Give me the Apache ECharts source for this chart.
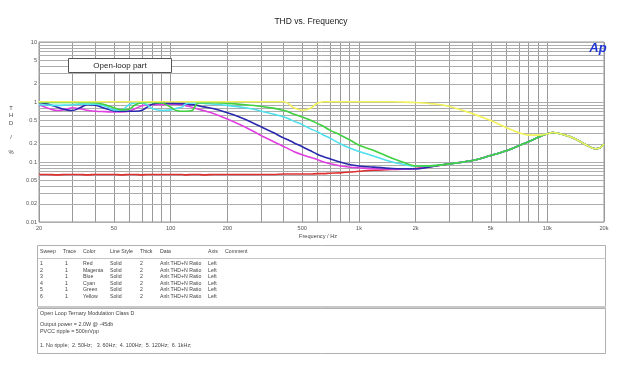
<!DOCTYPE html>
<html>
<head>
<meta charset="utf-8">
<script src="https://cdn.jsdelivr.net/npm/echarts@6/dist/echarts.min.js"></script>
<style>
html,body{margin:0;padding:0;background:#fff;}
#chart{width:617px;height:367px;}
</style>
</head>
<body>
<div id="chart"></div>
<script>
// ---- data ----
const freq = [
  20, 22, 25, 28, 30, 33, 36, 40, 45, 50,
  55, 60, 65, 70, 75, 80, 90, 100, 105, 110,
  115, 120, 130, 135, 140, 150, 170, 200, 250, 300,
  350, 400, 420, 450, 500, 550, 600, 650, 700, 800,
  900, 1000, 1200, 1500, 1700, 2000, 2500, 3000, 4000, 5000,
  6000, 7000, 8000, 9000, 10000, 10700, 12000, 14000, 16000, 18000,
  19000, 20000
];
const thdRed = [
  0.062, 0.062, 0.061, 0.062, 0.062, 0.062, 0.061, 0.062, 0.062, 0.062,
  0.061, 0.062, 0.062, 0.061, 0.062, 0.062, 0.062, 0.062, 0.062, 0.062,
  0.062, 0.061, 0.062, 0.062, 0.062, 0.061, 0.062, 0.062, 0.062, 0.062,
  0.062, 0.063, 0.063, 0.063, 0.063, 0.063, 0.064, 0.064, 0.065, 0.066,
  0.068, 0.070, 0.073, 0.075, 0.076, 0.078, 0.085, 0.093, 0.106, 0.128,
  0.152, 0.185, 0.22, 0.26, 0.295, 0.31, 0.29, 0.245, 0.194, 0.166,
  0.172, 0.2
];
const thdMagenta = [
  0.9, 0.8, 0.72, 0.76, 0.8, 0.77, 0.73, 0.7, 0.69, 0.68,
  0.68, 0.7, 0.78, 0.86, 0.9, 0.9, 0.9, 0.92, 0.92, 0.91,
  0.9, 0.87, 0.82, 0.79, 0.76, 0.72, 0.64, 0.52, 0.38, 0.28,
  0.22, 0.18, 0.167, 0.15, 0.132, 0.12, 0.11, 0.1, 0.094, 0.086,
  0.082, 0.08, 0.077, 0.076, 0.076, 0.077, 0.085, 0.093, 0.106, 0.128,
  0.152, 0.185, 0.22, 0.26, 0.295, 0.31, 0.29, 0.245, 0.194, 0.166,
  0.172, 0.2
];
const thdBlue = [
  0.98, 0.93, 0.82, 0.74, 0.72, 0.8, 0.9, 0.88, 0.78, 0.71,
  0.7, 0.7, 0.7, 0.72, 0.82, 0.92, 0.96, 0.95, 0.95, 0.94,
  0.94, 0.93, 0.9, 0.89, 0.87, 0.83, 0.77, 0.66, 0.51, 0.39,
  0.31, 0.25, 0.235, 0.21, 0.18, 0.155, 0.135, 0.122, 0.113, 0.099,
  0.09, 0.086, 0.082, 0.078, 0.077, 0.077, 0.085, 0.093, 0.106, 0.128,
  0.152, 0.185, 0.22, 0.26, 0.295, 0.31, 0.29, 0.245, 0.194, 0.166,
  0.172, 0.2
];
const thdCyan = [
  0.9, 0.89, 0.88, 0.89, 0.9, 0.92, 0.92, 0.92, 0.85, 0.74,
  0.74, 0.9, 0.96, 0.96, 0.9, 0.78, 0.72, 0.74, 0.77, 0.8,
  0.82, 0.93, 0.96, 0.96, 0.96, 0.95, 0.92, 0.88, 0.8, 0.71,
  0.63, 0.56, 0.53, 0.48, 0.42, 0.36, 0.32, 0.28, 0.25, 0.2,
  0.17, 0.15, 0.125, 0.1, 0.092, 0.085, 0.087, 0.093, 0.106, 0.128,
  0.152, 0.185, 0.22, 0.26, 0.295, 0.31, 0.29, 0.245, 0.194, 0.166,
  0.172, 0.2
];
const thdGreen = [
  0.98, 0.98, 0.98, 0.98, 0.98, 0.98, 0.98, 0.97, 0.9, 0.8,
  0.74, 0.76, 0.9, 0.97, 0.98, 0.98, 0.96, 0.82, 0.74, 0.71,
  0.7, 0.7, 0.72, 0.85, 0.96, 0.97, 0.97, 0.95, 0.9, 0.85,
  0.79, 0.72, 0.69, 0.63, 0.56, 0.5, 0.44, 0.39, 0.34, 0.28,
  0.23, 0.19, 0.155, 0.115, 0.1, 0.086, 0.087, 0.093, 0.106, 0.128,
  0.152, 0.185, 0.22, 0.26, 0.295, 0.31, 0.29, 0.245, 0.194, 0.166,
  0.172, 0.2
];
const thdYellow = [
  1.01, 1.01, 1.01, 1.01, 1.01, 1.01, 1.01, 1.01, 1.01, 1.01,
  1.01, 1.01, 1.01, 1.01, 1.01, 1.01, 1.01, 1.01, 1.01, 1.01,
  1.01, 1.01, 1.01, 1.01, 1.01, 1.01, 1.01, 1.01, 1.01, 1.01,
  1.01, 1.01, 0.95, 0.8, 0.73, 0.78, 0.95, 1.01, 1.01, 1.01,
  1.01, 1.01, 1.01, 1.01, 1.0, 0.98, 0.93, 0.85, 0.64, 0.49,
  0.38, 0.31, 0.28, 0.28, 0.295, 0.31, 0.29, 0.245, 0.194, 0.166,
  0.172, 0.2
];
const seriesNames = ['1', '2', '3', '4', '5', '6'];
const seriesColors = ['#e03030', '#e040e0', '#2a2aae', '#4ee0ee', '#40d040', '#f2f25c'];

const xTickVals = [20, 50, 100, 200, 500, 1000, 2000, 5000, 10000, 20000];
const xTickLabels = ['20', '50', '100', '200', '500', '1k', '2k', '5k', '10k', '20k'];
const yTickVals = [0.01, 0.02, 0.05, 0.1, 0.2, 0.5, 1, 2, 5, 10];
const yTickLabels = ['0.01', '0.02', '0.05', '0.1', '0.2', '0.5', '1', '2', '5', '10'];
const xGridVals = [20, 30, 40, 50, 60, 70, 80, 90, 100, 200, 300, 400, 500, 600, 700, 800, 900,
  1000, 2000, 3000, 4000, 5000, 6000, 7000, 8000, 9000, 10000, 20000];
const yGridVals = [0.01, 0.02, 0.03, 0.04, 0.05, 0.06, 0.07, 0.08, 0.09, 0.1, 0.2, 0.3, 0.4, 0.5, 0.6,
  0.7, 0.8, 0.9, 1, 2, 3, 4, 5, 6, 7, 8, 9, 10];

const tableHeader = ['Sweep', 'Trace', 'Color', 'Line Style', 'Thick', 'Data', 'Axis', 'Comment'];
const tableSweep = ['1', '2', '3', '4', '5', '6'];
const tableTrace = ['1', '1', '1', '1', '1', '1'];
const tableColor = ['Red', 'Magenta', 'Blue', 'Cyan', 'Green', 'Yellow'];
const tableStyle = ['Solid', 'Solid', 'Solid', 'Solid', 'Solid', 'Solid'];
const tableThick = ['2', '2', '2', '2', '2', '2'];
const tableData = ['Anlr.THD+N Ratio', 'Anlr.THD+N Ratio', 'Anlr.THD+N Ratio', 'Anlr.THD+N Ratio', 'Anlr.THD+N Ratio', 'Anlr.THD+N Ratio'];
const tableAxis = ['Left', 'Left', 'Left', 'Left', 'Left', 'Left'];
const notesLines = [
  'Open Loop Ternary Modulation Class D',
  'Output power = 2.0W @ -45db',
  'PVCC ripple = 500mVpp',
  '1. No ripple;  2. 50Hz;   3. 60Hz;  4. 100Hz;  5. 120Hz;  6. 1kHz;'
];

// ---- build ----
const L = Math.log10;
const allThd = [thdRed, thdMagenta, thdBlue, thdCyan, thdGreen, thdYellow];
const FONT = '"Liberation Sans", Arial, sans-serif';

function labelFor(vals, labels, v) {
  for (let i = 0; i < vals.length; i++) {
    if (Math.abs(L(vals[i]) - v) < 1e-6) return labels[i];
  }
  return '';
}

const series = allThd.map((arr, k) => ({
  name: seriesNames[k],
  type: 'line',
  data: freq.map((f, i) => [L(f), L(arr[i])]),
  showSymbol: false,
  smooth: 0.35,
  z: 10,
  lineStyle: { color: seriesColors[k], width: 1.6 },
  itemStyle: { color: seriesColors[k] },
  animation: false
}));

// grid lines as mark lines drawn through the axes
series[0].markLine = {
  silent: true,
  symbol: ['none', 'none'],
  label: { show: false },
  z: 1,
  animation: false,
  data: [
    ...xGridVals.map(v => ({ xAxis: L(v), lineStyle: { color: '#999999', width: 1, type: 'solid' } })),
    ...yGridVals.map(v => ({ yAxis: L(v), lineStyle: { color: '#adadad', width: 1, type: 'solid' } }))
  ]
};

const graphic = [];
// title
graphic.push({ type: 'text', style: { text: 'THD vs. Frequency', x: 311, y: 21.5, align: 'center', verticalAlign: 'middle', fontSize: 8.5, fontFamily: FONT, fill: '#1a1a1a' } });
// y axis name
graphic.push({ type: 'text', style: { text: 'T\nH\nD\n\n/\n\n%', x: 11, y: 104.5, align: 'center', verticalAlign: 'top', fontSize: 5.8, lineHeight: 7.4, fontFamily: FONT, fill: '#444' } });
// x axis name
graphic.push({ type: 'text', style: { text: 'Frequency / Hz', x: 318, y: 236, align: 'center', verticalAlign: 'middle', fontSize: 5.6, fontFamily: FONT, fill: '#444' } });
// Ap logo
graphic.push({ type: 'text', z: 20, style: { text: 'Ap', x: 598, y: 48, align: 'center', verticalAlign: 'middle', fontSize: 13, fontStyle: 'italic', fontWeight: 'bold', fontFamily: FONT, fill: '#1f36d4' } });
// Open-loop part box
graphic.push({ type: 'rect', z: 20, shape: { x: 68.5, y: 58.5, width: 103, height: 14 }, style: { fill: '#fff', stroke: '#555', lineWidth: 1 } });
graphic.push({ type: 'text', z: 21, style: { text: 'Open-loop part', x: 120, y: 65.5, align: 'center', verticalAlign: 'middle', fontSize: 8, fontFamily: FONT, fill: '#222' } });

// table box
graphic.push({ type: 'rect', shape: { x: 37.5, y: 245.5, width: 568, height: 61 }, style: { fill: 'none', stroke: '#b0b0b0', lineWidth: 1 } });
graphic.push({ type: 'line', shape: { x1: 38, y1: 258.5, x2: 606, y2: 258.5 }, style: { stroke: '#c4c4c4', lineWidth: 1 } });
graphic.push({ type: 'rect', shape: { x: 38, y: 306, width: 568, height: 2 }, style: { fill: '#c8c8c8' } });
graphic.push({ type: 'rect', shape: { x: 37.5, y: 308.5, width: 568, height: 45 }, style: { fill: 'none', stroke: '#b0b0b0', lineWidth: 1 } });

const colX = [40, 63, 83, 110, 140, 160, 208, 225];
const tfs = 5.2;
tableHeader.forEach((h, i) => {
  graphic.push({ type: 'text', style: { text: h, x: colX[i], y: 251.5, align: 'left', verticalAlign: 'middle', fontSize: tfs, fontFamily: FONT, fill: '#444' } });
});
const cols = [tableSweep, tableTrace, tableColor, tableStyle, tableThick, tableData, tableAxis];
const colOff = [0, 2, 0, 0, 0, 0, 0];
for (let r = 0; r < tableSweep.length; r++) {
  cols.forEach((c, i) => {
    graphic.push({ type: 'text', style: { text: c[r], x: colX[i] + colOff[i], y: 263.5 + r * 6.6, align: 'left', verticalAlign: 'middle', fontSize: tfs, fontFamily: FONT, fill: '#444' } });
  });
}
const notesY = [314, 325, 331.5, 346];
notesLines.forEach((t, i) => {
  graphic.push({ type: 'text', style: { text: t, x: 40, y: notesY[i], align: 'left', verticalAlign: 'middle', fontSize: 5.4, fontFamily: FONT, fill: '#444' } });
});

const option = {
  backgroundColor: '#fff',
  animation: false,
  grid: { left: 39, right: 13, top: 42, bottom: 145, show: true, borderColor: '#999', borderWidth: 1, backgroundColor: 'transparent' },
  xAxis: {
    type: 'value', min: L(20), max: L(20000),
    axisLine: { show: true, lineStyle: { color: '#999', width: 1 } },
    axisTick: { show: false, customValues: xTickVals.map(L) },
    splitLine: { show: false },
    axisLabel: {
      customValues: xTickVals.map(L), margin: 3, fontSize: 5.6, color: '#555', fontFamily: FONT,
      showMinLabel: true, showMaxLabel: true, hideOverlap: false,
      formatter: v => labelFor(xTickVals, xTickLabels, v)
    }
  },
  yAxis: {
    type: 'value', min: -2, max: 1,
    axisLine: { show: true, lineStyle: { color: '#999', width: 1 } },
    axisTick: { show: false, customValues: yTickVals.map(L) },
    splitLine: { show: false },
    axisLabel: {
      customValues: yTickVals.map(L), margin: 2, fontSize: 5.6, color: '#555', fontFamily: FONT,
      showMinLabel: true, showMaxLabel: true, hideOverlap: false,
      formatter: v => labelFor(yTickVals, yTickLabels, v)
    }
  },
  series: series,
  graphic: graphic
};

const chart = echarts.init(document.getElementById('chart'), null, { renderer: 'canvas' });
chart.setOption(option);
</script>
</body>
</html>
